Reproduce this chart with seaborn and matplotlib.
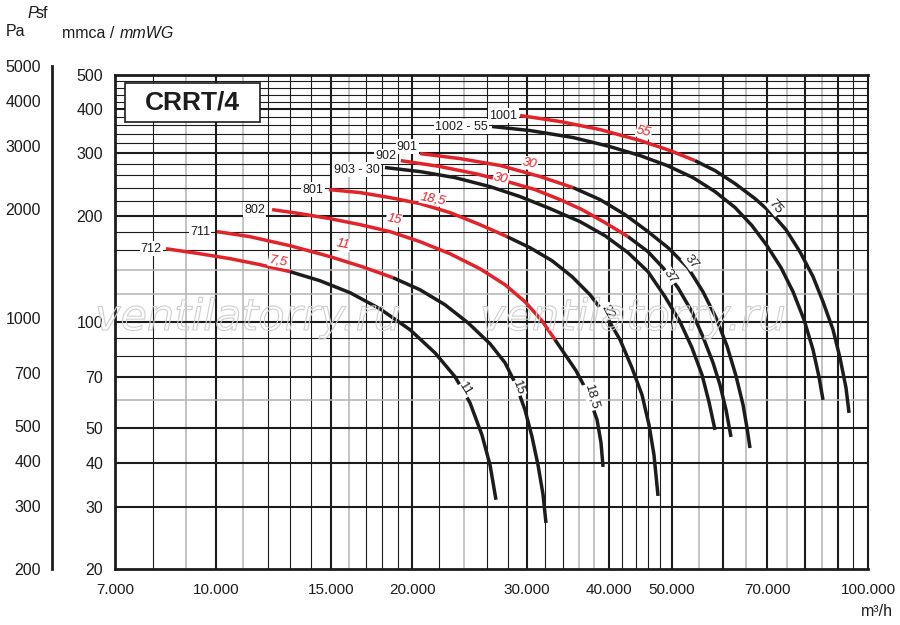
import matplotlib
matplotlib.use("Agg")
import matplotlib.pyplot as plt
import matplotlib.ticker as mticker
import matplotlib.patheffects as pe
from matplotlib.patches import Rectangle
import seaborn as sns

# fan curves: airflow (m3/h) vs static pressure (mmca)
q_712 = [8380, 9450, 10510, 11680, 12990, 14430, 16060, 17840, 19840, 21670, 23260, 24520, 25580, 26320, 26880]
p_712 = [161.2, 156.0, 151.1, 145.3, 138.8, 130.9, 121.0, 109.0, 95.1, 81.8, 70.0, 59.1, 47.9, 39.4, 31.4]

q_711 = [10035, 11270, 12990, 14960, 16750, 18680, 20550, 22450, 24350, 26320, 27750, 28850, 29780, 30530,
         31180, 31730, 32070]
p_711 = [180.2, 174.4, 164.4, 153.1, 143.4, 133.5, 123.4, 111.9, 99.5, 86.8, 76.7, 66.4, 56.4, 47.3,
         39.4, 32.6, 27.0]

q_802 = [12190, 13460, 14960, 16630, 18490, 20550, 22850, 25400, 27750, 29780, 31620, 33110, 34420, 35660,
         36680, 37600, 38410, 38950, 39230]
p_802 = [208.0, 202.6, 196.1, 188.6, 180.2, 168.8, 156.0, 141.5, 127.5, 114.1, 100.8, 89.1, 80.2, 72.8,
         66.0, 59.1, 52.9, 45.5, 38.9]

q_801 = [14900, 16630, 18490, 20550, 22850, 25400, 27950, 30310, 32760, 35160, 37460, 39640, 41660, 43450,
         45020, 46140, 46960, 47640]
p_801 = [237.0, 232.4, 224.9, 216.3, 204.0, 188.6, 174.4, 162.3, 149.1, 134.4, 119.5, 104.2, 89.1, 74.2,
         62.2, 51.2, 42.1, 32.2]

q_903 = [18160, 20550, 23260, 26320, 29270, 32530, 36170, 39500, 42850, 45980, 48830, 51480, 53700, 55640,
         57030, 58260]
p_903 = [273.6, 266.5, 256.2, 241.6, 226.4, 209.4, 192.3, 175.5, 157.1, 138.8, 117.9, 100.2, 84.6, 70.9,
         59.4, 49.5]

q_902 = [19210, 22060, 24960, 27950, 30850, 33700, 36420, 39500, 42850, 45980, 48490, 51120, 53700, 55830,
         57850, 59290, 60570, 61640]
p_902 = [286.2, 275.4, 263.0, 249.8, 237.0, 222.0, 208.0, 191.1, 174.4, 158.1, 142.4, 125.0, 106.9, 90.8,
         76.7, 66.4, 56.4, 47.3]

q_901 = [20550, 23670, 27270, 31400, 35280, 38820, 42400, 45980, 49350, 52960, 55830, 58470, 60770, 62740,
         64320, 65220, 65920]
p_901 = [299.7, 290.0, 277.3, 258.0, 240.1, 222.0, 201.3, 180.2, 162.3, 142.4, 121.8, 102.8, 85.6, 70.4,
         58.3, 50.2, 44.0]

q_1001 = [29270, 33700, 38820, 44700, 49700, 54280, 58260, 62520, 67090, 71240, 74850, 78630, 82350, 85310,
          88380, 90580, 92530, 93520]
p_1001 = [384.0, 369.3, 350.4, 326.3, 305.6, 286.2, 268.2, 246.4, 223.5, 202.6, 182.5, 158.1, 134.4, 114.1,
          95.1, 79.2, 65.1, 55.3]

q_1002 = [26510, 30310, 35280, 40200, 44700, 49170, 53910, 58260, 62520, 66380, 70000, 73560, 76740, 79780,
          82350, 84100, 85310]
p_1002 = [357.4, 348.2, 332.7, 313.6, 295.8, 277.3, 256.2, 233.9, 210.9, 187.4, 164.4, 142.4, 121.8, 101.5,
          83.5, 70.0, 60.2]

# model name, flow, pressure, number of points drawn in red (smaller motor)
curves = [
    ("712", q_712, p_712, 5),
    ("711", q_711, p_711, 6),
    ("802", q_802, p_802, 12),
    ("801", q_801, p_801, 7),
    ("903 - 30", q_903, p_903, 0),
    ("902", q_902, p_902, 9),
    ("901", q_901, p_901, 5),
    ("1002 - 55", q_1002, p_1002, 0),
    ("1001", q_1001, p_1001, 6),
]
name_offsets = {"712": (-3, 0), "711": (-5, 0), "802": (-5, 0), "801": (-4, 0),
                "903 - 30": (-4, -1.5), "902": (-3, 3), "901": (-1.5, 5),
                "1002 - 55": (-3, 0), "1001": (-2, 0)}

# motor power labels (kW)
red_labels = ["7,5", "11", "15", "18,5", "30", "30", "55"]
red_label_q = [12450, 15660, 18750, 21510, 30310, 27360, 45330]
red_label_p = [149.1, 165.5, 194.9, 223.5, 281.0, 255.0, 346.0]
red_label_rot = [-10, -11, -11, -11, -12, -12, -13]

black_labels = ["11", "15", "18,5", "22", "37", "37", "75"]
black_label_q = [24090, 29060, 37730, 39790, 49700, 53520, 72010]
black_label_p = [64.3, 65.1, 61.4, 106.9, 134.4, 148.2, 212.0]
black_label_rot = [-58, -70, -74, -62, -57, -52, -50]

x_ticks = [7000, 10000, 15000, 20000, 30000, 40000, 50000, 70000, 100000]
x_tick_labels = ["7.000", "10.000", "15.000", "20.000", "30.000", "40.000", "50.000", "70.000", "100.000"]
mm_ticks = [20, 30, 40, 50, 70, 100, 200, 300, 400, 500]
pa_ticks = [200, 300, 400, 500, 700, 1000, 2000, 3000, 4000, 5000]

vgrid_major = [10000, 15000, 20000, 30000, 40000, 50000, 60000, 70000, 80000, 90000]
vgrid_thin = [8000, 12000, 13000, 14000, 17000, 18000, 19000, 22000, 26000, 28000,
              32000, 34000, 42000, 44000, 46000, 48000, 95000]
vgrid_gray = [9000, 11000, 16000, 24000, 36000, 38000, 55000, 65000, 75000, 85000]
hgrid_major = [30, 40, 50, 70, 100, 200, 300, 400]
hgrid_thin = [80, 90, 160, 180, 220, 240, 260, 280, 320, 340, 360, 380, 420, 440, 460, 480]
hgrid_gray = [60, 120, 140]

RED = "#e42229"
INK = "#1c1c1c"
GRAY = "#b4b4b4"

sns.set_style("white")
plt.rcParams["font.family"] = ["Liberation Sans", "DejaVu Sans"]

W, H = 900, 625
fig = plt.figure(figsize=(9, 6.25), dpi=100)
ax = fig.add_axes([115 / W, (H - 569) / H, (868 - 115) / W, (569 - 75) / H])
ax.set_xscale("log")
ax.set_yscale("log")
ax.set_xlim(7000, 100000)
ax.set_ylim(20, 500)

# grid
for v in vgrid_gray:
    ax.axvline(v, color=GRAY, lw=1.1, zorder=1)
for v in vgrid_thin:
    ax.axvline(v, color=INK, lw=0.8, zorder=1)
for v in vgrid_major:
    ax.axvline(v, color=INK, lw=1.5, zorder=1)
for h in hgrid_gray:
    ax.axhline(h, color=GRAY, lw=1.1, zorder=1)
for h in hgrid_thin:
    ax.axhline(h, color=INK, lw=0.8, zorder=1)
for h in hgrid_major:
    ax.axhline(h, color=INK, lw=1.5, zorder=1)

# fan curves
for name, q, p, n_red in curves:
    if n_red > 0:
        sns.lineplot(x=q[:n_red], y=p[:n_red], ax=ax, color=RED, lw=2.5, sort=False,
                     estimator=None, solid_capstyle="butt", solid_joinstyle="round", zorder=3)
    k = max(n_red - 1, 0)
    sns.lineplot(x=q[k:], y=p[k:], ax=ax, color=INK, lw=2.5, sort=False,
                 estimator=None, solid_capstyle="butt", solid_joinstyle="round", zorder=3)
    ax.annotate(name, (q[0], p[0]), xytext=name_offsets[name], textcoords="offset points",
                ha="right", va="center", fontsize=9, color=INK, zorder=5,
                bbox=dict(boxstyle="square,pad=0.1", fc="white", ec="none"))

for txt, q, p, r in zip(red_labels, red_label_q, red_label_p, red_label_rot):
    ax.text(q, p, txt, color=RED, fontsize=9.5, style="italic", rotation=r,
            ha="center", va="center", rotation_mode="anchor", zorder=5,
            bbox=dict(boxstyle="square,pad=0.05", fc="white", ec="none"))

for txt, q, p, r in zip(black_labels, black_label_q, black_label_p, black_label_rot):
    ax.text(q, p, txt, color=INK, fontsize=9.5, rotation=r, ha="center", va="center",
            rotation_mode="anchor", zorder=5,
            bbox=dict(boxstyle="square,pad=0.05", fc="white", ec="none"))

# title box
ax.add_patch(Rectangle((10 / 753, (569 - 122) / 494), 135 / 753, 39 / 494,
                       transform=ax.transAxes, fc="white", ec=INK, lw=1.2, zorder=6))
ax.text((192 - 115) / 753, (569 - 102) / 494, "CRRT/4", transform=ax.transAxes,
        ha="center", va="center", fontsize=19, fontweight="bold", color=INK, zorder=7)

# axes styling
ax.xaxis.set_major_locator(mticker.FixedLocator(x_ticks))
ax.xaxis.set_major_formatter(mticker.FixedFormatter(x_tick_labels))
ax.xaxis.set_minor_locator(mticker.FixedLocator(vgrid_thin))
ax.xaxis.set_minor_formatter(mticker.NullFormatter())
ax.yaxis.set_major_locator(mticker.FixedLocator(mm_ticks))
ax.yaxis.set_major_formatter(mticker.FixedFormatter([str(t) for t in mm_ticks]))
ax.yaxis.set_minor_locator(mticker.FixedLocator(hgrid_thin))
ax.yaxis.set_minor_formatter(mticker.NullFormatter())
ax.tick_params(which="major", direction="out", length=5, width=1.5, color=INK,
               labelsize=11.5, labelcolor=INK)
ax.tick_params(axis="x", which="major", labelsize=11, pad=5)
ax.tick_params(which="minor", direction="out", length=3.5, width=0.9, color=INK)
for side in ["left", "bottom", "top"]:
    ax.spines[side].set_linewidth(2)
    ax.spines[side].set_color(INK)
ax.spines["right"].set_linewidth(1.5)
ax.spines["right"].set_color(INK)

# Pa scale on the far left
ax_pa = fig.add_axes([52 / W, (H - 569) / H, 0.0005, (569 - 66) / H])
ax_pa.set_yscale("log")
ax_pa.set_ylim(200, 5000)
ax_pa.yaxis.set_major_locator(mticker.FixedLocator(pa_ticks))
ax_pa.yaxis.set_major_formatter(mticker.FixedFormatter([str(t) for t in pa_ticks]))
ax_pa.yaxis.set_minor_locator(mticker.NullLocator())
ax_pa.set_xticks([])
for side in ["right", "bottom", "top"]:
    ax_pa.spines[side].set_visible(False)
ax_pa.spines["left"].set_linewidth(2)
ax_pa.spines["left"].set_color(INK)
ax_pa.tick_params(axis="y", direction="out", length=5, width=1.5, color=INK,
                  labelsize=11.5, labelcolor=INK, pad=3)
ax_pa.patch.set_alpha(0)

# axis captions
fig.text(27 / W, 1 - 13 / H, "P", fontsize=11.5, style="italic", va="center", color=INK)
fig.text(36 / W, 1 - 13 / H, "sf", fontsize=11.5, va="center", color=INK)
fig.text(6 / W, 1 - 32 / H, "Pa", fontsize=11.5, va="center", color=INK)
fig.text(62 / W, 1 - 34 / H, "mmca / ", fontsize=11.5, va="center", color=INK)
fig.text(120 / W, 1 - 34 / H, "mmWG", fontsize=11.5, style="italic", va="center", color=INK)
fig.text(893 / W, 1 - 612 / H, "m³/h", fontsize=11.5, ha="right", va="center", color=INK)

# watermark
for x0 in [95, 480]:
    fig.text(x0 / W, 1 - 330 / H, "ventilatorry.ru", fontsize=31, style="italic",
             family="DejaVu Sans", color=(1, 1, 1, 0), va="baseline", zorder=10,
             path_effects=[pe.withStroke(linewidth=0.8, foreground="#cfcfcf")])

fig.savefig("out.png", dpi=100)
